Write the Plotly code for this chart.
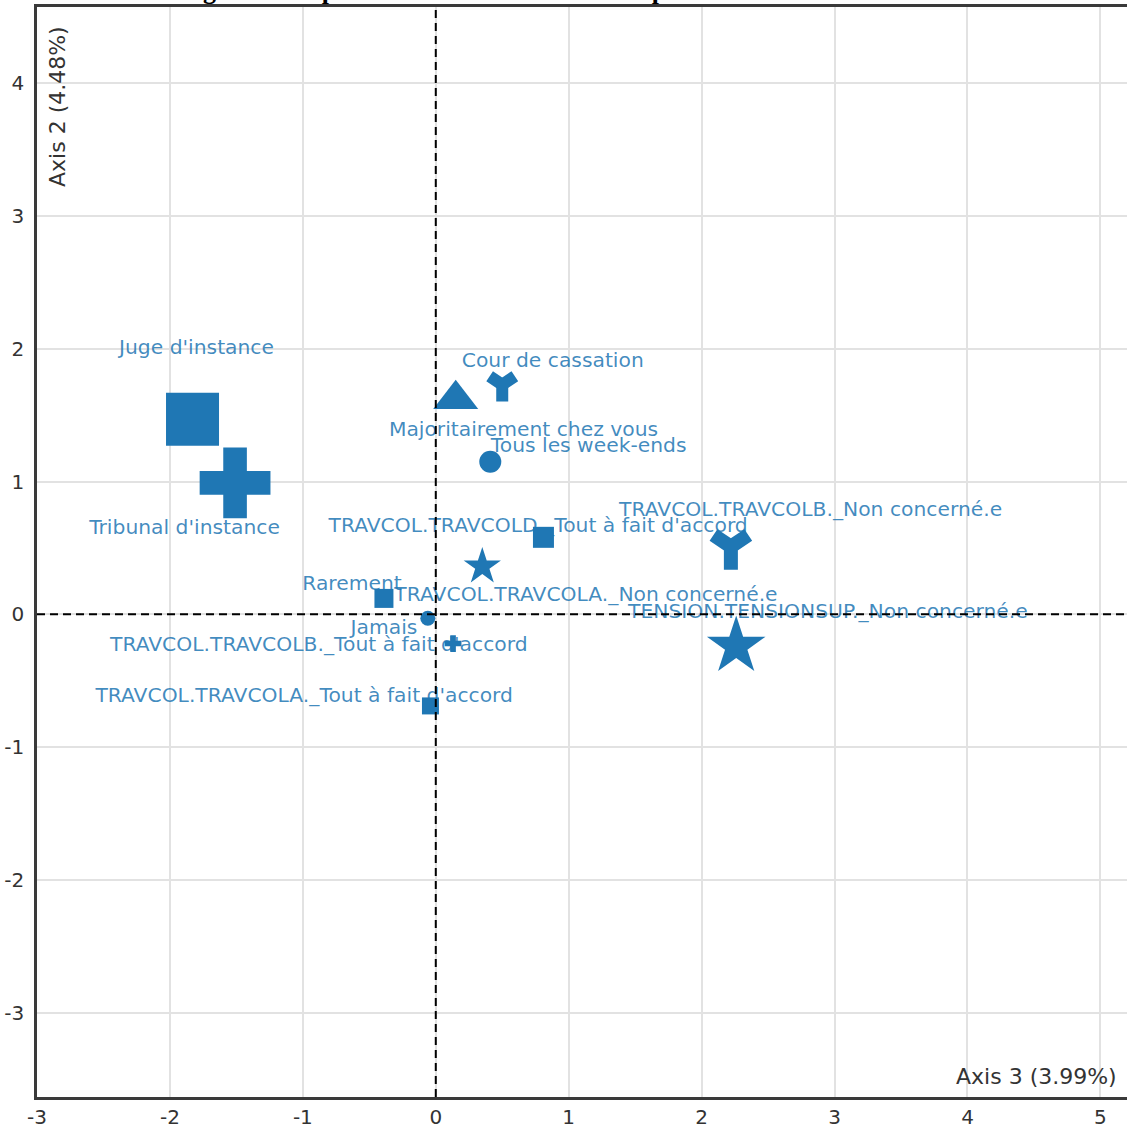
import plotly.graph_objects as go

# ---- data (coordinates on axes 3 and 2) ----
categories = [
    "Juge d'instance",
    "Tribunal d'instance",
    "Majoritairement chez vous",
    "Cour de cassation",
    "Tous les week-ends",
    "TRAVCOL.TRAVCOLD._Tout à fait d'accord",
    "TRAVCOL.TRAVCOLA._Non concerné.e",
    "TRAVCOL.TRAVCOLB._Non concerné.e",
    "TENSION.TENSIONSUP._Non concerné.e",
    "Rarement",
    "Jamais",
    "TRAVCOL.TRAVCOLB._Tout à fait d'accord",
    "TRAVCOL.TRAVCOLA._Tout à fait d'accord",
]
axis3 = [-1.83, -1.51, 0.15, 0.50, 0.41, 0.81, 0.35, 2.22, 2.26, -0.39, -0.06, 0.13, -0.04]
axis2 = [1.47, 0.99, 1.62, 1.73, 1.15, 0.58, 0.36, 0.51, -0.24, 0.12, -0.03, -0.22, -0.69]

# label anchor points (data units, as placed by the repel algorithm)
label_x = [-1.80, -1.89, 0.66, 0.88, 1.15, 0.77, 1.13, 2.82, 2.95, -0.63, -0.39, -0.88, -0.99]
label_y = [2.00, 0.64, 1.38, 1.90, 1.26, 0.66, 0.14, 0.78, 0.01, 0.22, -0.11, -0.24, -0.62]

x_ticks = [-3, -2, -1, 0, 1, 2, 3, 4, 5]
y_ticks = [-3, -2, -1, 0, 1, 2, 3, 4]

# ---- styles ----
BLUE = "#1f77b4"
marker_symbols = ["square", "cross", "triangle-up", "y-down", "circle", "square", "star",
                  "y-down", "star", "square", "circle", "cross", "square"]
marker_sizes = [53, 59, 39, 21, 22, 21, 28, 29, 44, 19, 15, 14, 17]
marker_lw = [0, 0, 0, 12, 0, 0, 0, 14, 0, 0, 0, 0, 0]

fig = go.Figure()

# labels (drawn beneath the markers)
fig.add_trace(go.Scatter(
    x=label_x, y=label_y, mode="text", text=categories,
    textposition="middle center",
    textfont=dict(family="DejaVu Sans", size=20.3, color="rgba(31,119,180,0.85)"),
    hoverinfo="skip", showlegend=False,
))

for i, name in enumerate(categories):
    lw = marker_lw[i]
    fig.add_trace(go.Scatter(
        x=[axis3[i]], y=[axis2[i]], mode="markers", name=name,
        marker=dict(symbol=marker_symbols[i], size=marker_sizes[i], color=BLUE,
                    line=dict(color=BLUE, width=lw)),
        showlegend=False,
    ))

axis_font = dict(family="DejaVu Sans", size=20, color="#333333")

fig.update_layout(
    width=1127, height=1129,
    margin=dict(l=37, r=0, t=7, b=29),
    paper_bgcolor="white", plot_bgcolor="white",
    xaxis=dict(range=[-3, 5.20], tickvals=x_ticks, ticktext=[str(v) for v in x_ticks],
               showgrid=True, gridcolor="#e2e2e2", gridwidth=2, zeroline=False,
               showline=True, linecolor="#3a3a3a", linewidth=2.5, mirror=True,
               ticks="", tickfont=axis_font),
    yaxis=dict(range=[-3.636, 4.575], tickvals=y_ticks, ticktext=[str(v) for v in y_ticks],
               showgrid=True, gridcolor="#e2e2e2", gridwidth=2, zeroline=False,
               showline=True, linecolor="#3a3a3a", linewidth=2.5,
               ticks="", tickfont=axis_font, ticklabelstandoff=6),
    shapes=[
        dict(type="line", xref="x", yref="paper", x0=0, x1=0, y0=0, y1=1,
             line=dict(color="black", width=2, dash="8px,5px")),
        dict(type="line", xref="paper", yref="y", x0=0, x1=1, y0=0, y1=0,
             line=dict(color="black", width=2, dash="8px,5px")),
    ],
    annotations=[
        dict(text="Axis 2 (4.48%)", xref="paper", yref="paper", x=0.0, y=1.0,
             xanchor="left", yanchor="top", xshift=6, yshift=-17, textangle=-90,
             showarrow=False, font=dict(family="DejaVu Sans", size=22, color="#333333")),
        dict(text="Axis 3 (3.99%)", xref="paper", yref="paper", x=1.0, y=0.0,
             xanchor="right", yanchor="bottom", xshift=-8, yshift=6,
             showarrow=False, font=dict(family="DejaVu Sans", size=22, color="#333333")),
        dict(text="<b>Figure 3 : Espace des modalités actives du plan factoriel des axes 2 et 3</b>",
             xref="paper", yref="paper", x=0.49, y=1.0, xanchor="center", yanchor="bottom",
             yshift=0, showarrow=False,
             font=dict(family="Liberation Serif", size=26, color="black")),
    ],
)

fig.write_html("out.html", config={"displayModeBar": False},
               post_script="document.body.style.margin='0';")
